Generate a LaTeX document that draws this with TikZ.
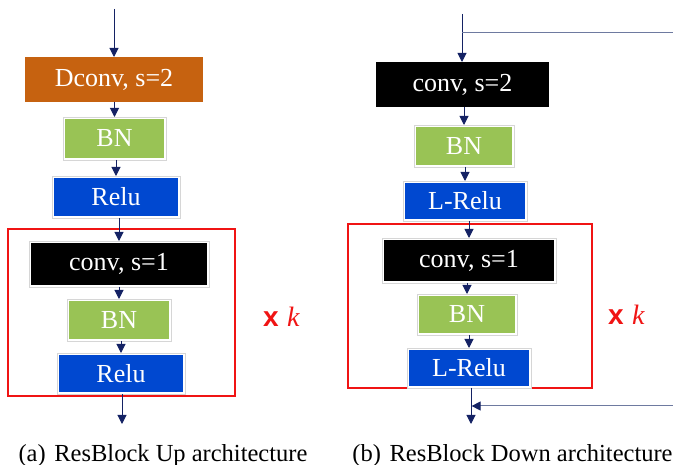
\documentclass[tikz,border=0pt]{standalone}
\usepackage{fontspec}
\setmainfont{Liberation Serif}
\newfontfamily\arialf{Liberation Sans}
\usetikzlibrary{arrows.meta}
\definecolor{dorange}{RGB}{198,98,16}
\definecolor{lgreen}{RGB}{153,195,85}
\definecolor{mblue}{RGB}{0,72,208}
\definecolor{navy}{RGB}{20,34,100}
\definecolor{skipc}{RGB}{110,122,160}
\definecolor{redf}{RGB}{240,20,20}
\newcommand{\bxf}{\fontsize{26}{28}\selectfont}
\tikzset{
  plainbox/.style={fill=#1, draw=none, text=white, font=\bxf, inner sep=0pt, outer sep=0pt},
  framedbox/.style={draw=black!16, line width=0.7pt, fill=white, text=white, font=\bxf, inner sep=0pt, outer sep=0pt,
    path picture={\fill[#1] ([shift={(2.4pt,2.4pt)}]path picture bounding box.south west) rectangle ([shift={(-2.4pt,-2.4pt)}]path picture bounding box.north east);}},
  arr/.style={draw=navy, line width=1pt, -{Triangle[length=9pt,width=9pt]}},
  skipline/.style={draw=skipc, line width=1pt},
  redframe/.style={draw=redf, line width=1.8pt},
  xk/.style={text=redf, font=\fontsize{28}{30}\selectfont, inner sep=0pt, anchor=base west},
  captext/.style={font=\fontsize{24.5}{26}\selectfont, inner sep=0pt, anchor=base},
}
\begin{document}
\begin{tikzpicture}[x=1pt,y=-1pt]
\useasboundingbox (0,0) rectangle (673,465);
% ---------- (a) ----------
\coordinate (ainA) at (114,9);
\node[plainbox=dorange, minimum width=178pt, minimum height=45pt] (dconv) at (114,79.5) {Dconv, s=2};
\node[framedbox=lgreen, minimum width=103pt, minimum height=43pt] (abn1) at (114.5,138.5) {BN};
\node[framedbox=mblue, minimum width=128pt, minimum height=42pt] (arelu1) at (116,197) {Relu};
\node[redframe, minimum width=227pt, minimum height=167pt, inner sep=0pt] (aframe) at (121.5,312.5) {};
\node[framedbox=black, minimum width=180pt, minimum height=46pt] (aconv) at (119,264) {conv, s=1};
\node[framedbox=lgreen, minimum width=104pt, minimum height=42pt] (abn2) at (119,320) {BN};
\node[framedbox=mblue, minimum width=128pt, minimum height=41pt] (arelu2) at (121,373.5) {Relu};
\coordinate (aout) at (122,424);
\draw[arr] (ainA) -- (ainA |- dconv.north);
\draw[arr] (dconv.south -| abn1.north) -- (abn1.north);
\draw[arr] (abn1.south -| arelu1.north) -- (arelu1.north);
\draw[arr] (arelu1.south -| aconv.north) -- (aconv.north);
\draw[arr] (aconv.south -| abn2.north) -- (abn2.north);
\draw[arr] (abn2.south -| arelu2.north) -- (arelu2.north);
\draw[arr] (arelu2.south -| aout) -- (aout);
\node[xk] (axk) at (263,327) {{\arialf\bfseries x}\hspace{0.3em}\textit{k}};
\node[captext] (acap) at (163,461) {(a)\hspace{0.35em}ResBlock Up architecture};
% ---------- (b) ----------
\coordinate (binA) at (462,14);
\coordinate (bskipA) at (462,33);
\coordinate (bskipB) at (673,33);
\coordinate (bskipC) at (673,406);
\node[plainbox=black, minimum width=173pt, minimum height=45pt] (bconv2) at (462.5,84.5) {conv, s=2};
\node[framedbox=lgreen, minimum width=100pt, minimum height=42pt] (bbn1) at (464,146) {BN};
\node[framedbox=mblue, minimum width=124pt, minimum height=40pt] (blrelu1) at (465,201) {L-Relu};
\node[redframe, minimum width=244pt, minimum height=164pt, inner sep=0pt] (bframe) at (470,306) {};
\node[framedbox=black, minimum width=174pt, minimum height=45pt] (bconv) at (469,260.5) {conv, s=1};
\node[framedbox=lgreen, minimum width=100pt, minimum height=41pt] (bbn2) at (467,314.5) {BN};
\node[framedbox=mblue, minimum width=124pt, minimum height=40pt] (blrelu2) at (469,368) {L-Relu};
\coordinate (bout) at (471,424);
\coordinate (bjoin) at (471,406);
\draw[arr] (binA) -- (binA |- bconv2.north);
\draw[skipline] (bskipA) -- (bskipB);
\draw[arr] (bconv2.south -| bbn1.north) -- (bbn1.north);
\draw[arr] (bbn1.south -| blrelu1.north) -- (blrelu1.north);
\draw[arr] (blrelu1.south -| bconv.north) -- (bconv.north);
\draw[arr] (bconv.south -| bbn2.north) -- (bbn2.north);
\draw[arr] (bbn2.south -| blrelu2.north) -- (blrelu2.north);
\draw[arr] (blrelu2.south -| bout) -- (bout);
\draw[skipline, -{Triangle[length=9pt,width=9pt,color=navy,fill=navy]}, shorten >=0.6pt] (bskipC) -- (bjoin);
\node[xk] (bxk) at (608,325) {{\arialf\bfseries x}\hspace{0.3em}\textit{k}};
\node[captext] (bcap) at (512.5,461) {(b)\hspace{0.35em}ResBlock Down architecture};
\end{tikzpicture}
\end{document}
